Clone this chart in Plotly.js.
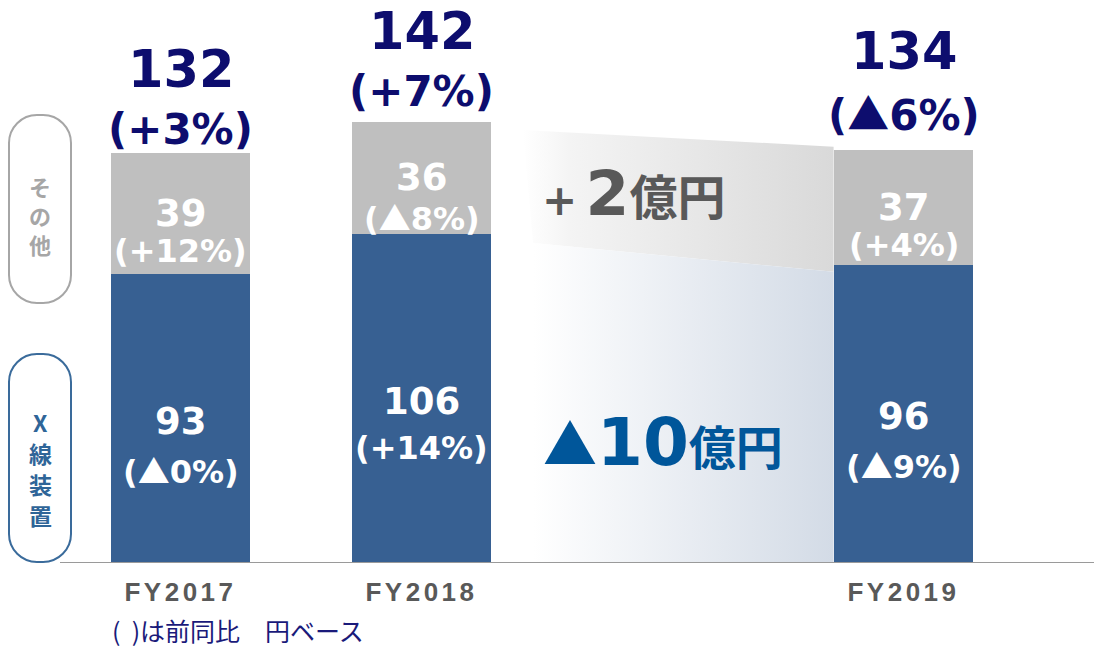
<!DOCTYPE html>
<html>
<head>
<meta charset="utf-8">
<script src="https://cdn.plot.ly/plotly-3.0.1.min.js"></script>
<style>
html,body{margin:0;padding:0;background:#fff;}
.xtick text{letter-spacing:3.5px;}
</style>
</head>
<body>
<div id="chart" style="width:1094px;height:648px;"></div>
<script>
// ---- data ----
const categories = ['FY2017', 'FY2018', 'FY2019'];
const slots = [0, 1, 3];               // category slots on the x axis (gap before FY2019)
const xrayValues = [93, 106, 96];      // X線装置
const otherValues = [39, 36, 37];      // その他
const totalValues = [132, 142, 134];
const xrayChange = ['(▲0%)', '(+14%)', '(▲9%)'];
const otherChange = ['(+12%)', '(▲8%)', '(+4%)'];
const totalChange = ['(+3%)', '(+7%)', '(▲6%)'];
const bridgeOther = '+2';   // 億円
const bridgeXray = '▲10';   // 億円
const sideOther = ['そ', 'の', '他'];
const sideXray = ['X', '線', '装', '置'];
const note = '(  )は前同比　円ベース';

// ---- layout constants ----
const W = 1094, H = 648, MB = 85, PH = H - MB;
const pxPerUnitX = 241, firstCenterPx = 180.5;
const pxPerUnitY = 3.107;
const barW = 0.58;
const NAVY = '#0d0d6e', BLUE = '#376092', GRAY = '#bfbfbf';
const NUMFONT = 'DejaVu Sans, Noto Sans CJK JP, sans-serif';
const JPFONT = 'Noto Sans CJK JP, DejaVu Sans, sans-serif';

const xr0 = -firstCenterPx / pxPerUnitX;
const xr1 = xr0 + W / pxPerUnitX;
const yMax = PH / pxPerUnitY;

const px2x = px => px / W;
const px2y = py => (PH - py) / PH;
const tri = s => s.replace('▲', '<span style="font-family:Noto Sans CJK JP">▲</span>');

function roundRect(x0, y0, x1, y1, r) {
  const k = 0.5523 * r;
  const P = (x, y) => px2x(x).toFixed(5) + ',' + px2y(y).toFixed(5);
  return 'M' + P(x0 + r, y0) + ' L' + P(x1 - r, y0) +
    ' C' + P(x1 - r + k, y0) + ' ' + P(x1, y0 + r - k) + ' ' + P(x1, y0 + r) +
    ' L' + P(x1, y1 - r) +
    ' C' + P(x1, y1 - r + k) + ' ' + P(x1 - r + k, y1) + ' ' + P(x1 - r, y1) +
    ' L' + P(x0 + r, y1) +
    ' C' + P(x0 + r - k, y1) + ' ' + P(x0, y1 - r + k) + ' ' + P(x0, y1 - r) +
    ' L' + P(x0, y0 + r) +
    ' C' + P(x0, y0 + r - k) + ' ' + P(x0 + r - k, y0) + ' ' + P(x0 + r, y0) + ' Z';
}

// bridge bands between FY2018 and FY2019 (perspective look)
const bandRight = slots[2] - barW / 2;
const grayLeft = slots[1] + 0.421, blueLeft = slots[1] + 0.463;
const grayBand = {
  x: [grayLeft, bandRight, bandRight, blueLeft, grayLeft],
  y: [totalValues[1] - 2.6, totalValues[2], xrayValues[2] - 2.3, xrayValues[1] - 3, totalValues[1] - 2.6],
  type: 'scatter', mode: 'lines', fill: 'toself', line: {width: 0},
  fillgradient: {type: 'horizontal', colorscale: [[0, 'rgba(255,255,255,1)'], [0.15, '#f4f4f4'], [1, '#d9d9d9']]},
  hoverinfo: 'skip', showlegend: false
};
const blueBand = {
  x: [blueLeft, bandRight, bandRight, blueLeft, blueLeft],
  y: [xrayValues[1] - 3, xrayValues[2] - 2.3, 0, 0, xrayValues[1] - 3],
  type: 'scatter', mode: 'lines', fill: 'toself', line: {width: 0},
  fillgradient: {type: 'horizontal', colorscale: [[0, 'rgba(255,255,255,1)'], [1, '#d3dbe6']]},
  hoverinfo: 'skip', showlegend: false
};

const xrayTrace = {
  type: 'bar', x: slots, y: xrayValues, width: barW,
  marker: {color: BLUE, line: {width: 0}}, name: 'X線装置', hoverinfo: 'skip'
};
const otherTrace = {
  type: 'bar', x: slots, y: otherValues, width: barW,
  marker: {color: GRAY, line: {width: 0}}, name: 'その他', hoverinfo: 'skip'
};

const annotations = [];
const topAdj = [-7, 0, 5];
categories.forEach((c, i) => {
  const x = slots[i];
  // totals
  annotations.push({x, y: totalValues[i], text: '<b>' + totalValues[i] + '</b>', showarrow: false,
    yanchor: 'middle', yshift: 90 + topAdj[i], font: {family: NUMFONT, size: 51, color: NAVY}});
  annotations.push({x, y: totalValues[i], text: '<b>' + tri(totalChange[i]) + '</b>', showarrow: false,
    yanchor: 'middle', yshift: 30 + topAdj[i], font: {family: NUMFONT, size: 42, color: NAVY}});
  // other segment
  const oy = xrayValues[i] + otherValues[i] / 2;
  annotations.push({x, y: oy, text: '<b>' + otherValues[i] + '</b>', showarrow: false,
    yanchor: 'middle', yshift: 0, font: {family: NUMFONT, size: 37, color: '#ffffff'}});
  annotations.push({x, y: oy, text: '<b>' + tri(otherChange[i]) + '</b>', showarrow: false,
    yanchor: 'middle', yshift: -38, font: {family: NUMFONT, size: 32, color: '#ffffff'}});
  // xray segment
  const xy = xrayValues[i] / 2;
  annotations.push({x, y: xy, text: '<b>' + xrayValues[i] + '</b>', showarrow: false,
    yanchor: 'middle', yshift: -3, font: {family: NUMFONT, size: 37, color: '#ffffff'}});
  annotations.push({x, y: xy, text: '<b>' + tri(xrayChange[i]) + '</b>', showarrow: false,
    yanchor: 'middle', yshift: -50, font: {family: NUMFONT, size: 32, color: '#ffffff'}});
});

// bridge texts
annotations.push({x: 1.88, y: 119, showarrow: false, yanchor: 'middle',
  text: '<b><span style="font-size:42px">' + bridgeOther.charAt(0) + '\u2009</span>' +
        '<span style="font-size:63px">' + bridgeOther.slice(1) + '</span>' +
        '<span style="font-family:Noto Sans CJK JP;font-size:48px">億円</span></b>',
  font: {family: NUMFONT, size: 45, color: '#595959'}});
annotations.push({x: 2.0, y: 39, showarrow: false, yanchor: 'middle',
  text: '<b><span style="font-family:Noto Sans CJK JP;font-size:54px">' + bridgeXray.charAt(0) + '</span>' +
        '<span style="font-size:66px">' + bridgeXray.slice(1) + '</span>' +
        '<span style="font-family:Noto Sans CJK JP;font-size:47px">億円</span></b>',
  font: {family: NUMFONT, size: 45, color: '#00569a'}});

// side labels (vertical, one character per line)
sideOther.forEach((ch, k) => {
  annotations.push({xref: 'paper', yref: 'paper', x: px2x(40), y: px2y(186 + 29 * k), showarrow: false,
    xanchor: 'center', yanchor: 'middle', text: '<b>' + ch + '</b>',
    font: {family: JPFONT, size: 22, color: '#a6a6a6'}});
});
sideXray.forEach((ch, k) => {
  annotations.push({xref: 'paper', yref: 'paper', x: px2x(40), y: px2y(422 + 31 * k), showarrow: false,
    xanchor: 'center', yanchor: 'middle', text: '<b>' + ch + '</b>',
    font: {family: JPFONT, size: 23, color: '#2f6598'}});
});

// note
annotations.push({xref: 'paper', yref: 'paper', x: px2x(110), y: px2y(630), xanchor: 'left', yanchor: 'middle',
  showarrow: false, text: note, font: {family: JPFONT, size: 25, color: '#1a1a7a'}});

const layout = {
  width: W, height: H,
  margin: {l: 0, r: 0, t: 0, b: MB, pad: 0},
  paper_bgcolor: '#ffffff', plot_bgcolor: '#ffffff',
  barmode: 'stack', showlegend: false, hovermode: false,
  xaxis: {range: [xr0, xr1], tickvals: slots, ticktext: categories,
    showgrid: false, zeroline: false, showline: false, ticks: '',
    ticklabelstandoff: 11,
    tickfont: {family: 'Liberation Sans, Arial, sans-serif', size: 26, color: '#595959', weight: 'bold'}},
  yaxis: {range: [0, yMax], visible: false, showgrid: false, zeroline: false},
  shapes: [
    {type: 'line', xref: 'paper', yref: 'y', x0: px2x(60), x1: 1, y0: 0, y1: 0,
      line: {color: '#9a9a9a', width: 2}, layer: 'above'},
    {type: 'path', xref: 'paper', yref: 'paper', path: roundRect(9, 115, 71, 303, 28),
      line: {color: '#a6a6a6', width: 2}, fillcolor: 'rgba(0,0,0,0)'},
    {type: 'path', xref: 'paper', yref: 'paper', path: roundRect(9, 354, 71, 562, 28),
      line: {color: '#3a6b9b', width: 2}, fillcolor: 'rgba(0,0,0,0)'}
  ],
  annotations
};

Plotly.newPlot('chart', [grayBand, blueBand, xrayTrace, otherTrace], layout, {staticPlot: true, displayModeBar: false});
</script>
</body>
</html>
